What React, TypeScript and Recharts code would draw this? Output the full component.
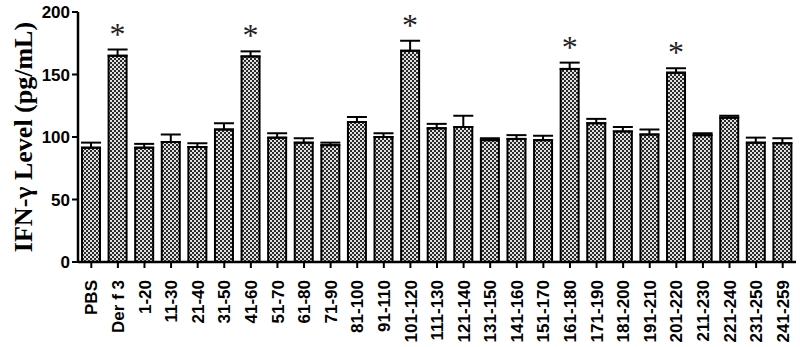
import React from 'react';
import { BarChart, Bar, XAxis, YAxis, ErrorBar, LabelList } from 'recharts';

const categories = [
  'PBS', 'Der f 3', '1-20', '11-30', '21-40', '31-50', '41-60', '51-70', '61-80',
  '71-90', '81-100', '91-110', '101-120', '111-130', '121-140', '131-150', '141-160',
  '151-170', '161-180', '171-190', '181-200', '191-210', '201-220', '211-230',
  '221-240', '231-250', '241-259'
];
const means = [
  91.5, 165, 91.5, 96, 92, 106, 164.5, 99.5, 95.5, 93.5, 112, 100, 169, 107, 108,
  97.5, 98.5, 97.5, 154.5, 111, 104.5, 102, 151.5, 101.5, 115.5, 95.5, 95
];
const errors = [
  4, 5, 3, 6, 3, 5, 4, 3.5, 3.5, 2, 4, 3, 8, 3.5, 9, 1.5, 3, 3.5, 5, 3.5, 3.5, 4,
  3.5, 1.5, 1.5, 4, 4
];
const significant = [1, 6, 12, 18, 22];
const yTicks = [0, 50, 100, 150, 200];

const data = categories.map((name, i) => ({
  name,
  value: means[i],
  err: [0, errors[i]],
  star: significant.includes(i) ? '*' : ''
}));

const XTick = ({ x, y, payload }: any) => (
  <text
    transform={`translate(${x},${y + 10}) rotate(-90)`}
    textAnchor="end"
    dy="0.36em"
    fontSize={17}
    fontWeight="bold"
    fontFamily="'Liberation Sans', Arial, sans-serif"
    fill="#000"
  >
    {payload.value}
  </text>
);

const Star = (props: any) => {
  const { x, y, width, height, value, index } = props;
  if (!value) return null;
  const pxPerUnit = height / means[index];
  const top = y - errors[index] * pxPerUnit;
  return (
    <text
      x={x + width / 2}
      y={top - 5}
      textAnchor="middle"
      fontSize={32}
      fontFamily="'Liberation Serif', serif"
      fill="#222"
    >
      *
    </text>
  );
};

export default function App() {
  return (
    <div style={{ position: 'absolute', left: 0, top: 0, width: 800, height: 347, background: '#fff' }}>
      <BarChart
        width={800}
        height={347}
        data={data}
        margin={{ top: 12, right: 4, left: 0, bottom: 0 }}
        barCategoryGap={4}
      >
        <defs>
          <pattern id="checker" width="4" height="4" patternUnits="userSpaceOnUse">
            <rect width="4" height="4" fill="#e0e0e0" />
            <rect width="2" height="2" fill="#2a2a2a" />
            <rect x="2" y="2" width="2" height="2" fill="#2a2a2a" />
          </pattern>
        </defs>
        <XAxis
          dataKey="name"
          interval={0}
          height={85}
          tick={<XTick />}
          tickSize={6}
          axisLine={{ stroke: '#000', strokeWidth: 2.5 }}
          tickLine={{ stroke: '#000', strokeWidth: 2 }}
        />
        <YAxis
          domain={[0, 200]}
          ticks={yTicks}
          width={78}
          tickSize={6}
          axisLine={{ stroke: '#000', strokeWidth: 2.5 }}
          tickLine={{ stroke: '#000', strokeWidth: 2 }}
          tick={{ fill: '#000', fontSize: 17, fontWeight: 'bold', fontFamily: "'Liberation Sans', Arial, sans-serif" }}
          label={{
            value: 'IFN-γ Level (pg/mL)',
            angle: -90,
            position: 'insideLeft',
            dx: 18,
            style: {
              textAnchor: 'middle',
              fontSize: 26,
              fontWeight: 'bold',
              fontFamily: "'Liberation Serif', 'Times New Roman', serif",
              fill: '#000'
            }
          }}
        />
        <Bar
          dataKey="value"
          barSize={18}
          fill="url(#checker)"
          stroke="#000"
          strokeWidth={2}
          isAnimationActive={false}
        >
          <ErrorBar dataKey="err" width={10} stroke="#000" strokeWidth={2} direction="y" />
          <LabelList dataKey="star" content={<Star />} />
        </Bar>
      </BarChart>
    </div>
  );
}
